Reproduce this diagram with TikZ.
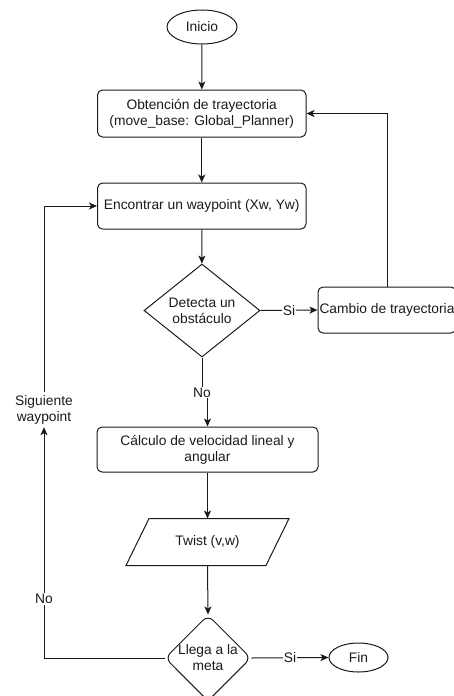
\documentclass[tikz,border=0pt]{standalone}
\usepackage{fontspec}
\setmainfont{Liberation Sans}
\usetikzlibrary{shapes.geometric,arrows.meta}
\definecolor{ink}{HTML}{1A1A1A}
\tikzset{
  base/.style={draw=ink, line width=1pt, text=ink, align=center, inner sep=0pt,
    font=\fontsize{13.8}{16}\selectfont},
  proc/.style={base, rectangle, rounded corners=5pt},
  term/.style={base, ellipse},
  decision/.style={base, diamond},
  lbl/.style={fill=white, text=ink, inner sep=1pt, font=\fontsize{13.8}{16}\selectfont, align=center},
  arr/.style={draw=ink, line width=1pt, -{Stealth[length=8pt,width=7pt,inset=2pt]}},
  plain/.style={draw=ink, line width=1pt}
}
\begin{document}
\begin{tikzpicture}[x=1pt,y=-1pt]
\useasboundingbox (0,0) rectangle (454,696);

% process nodes
\node[term, minimum width=70, minimum height=34] (inicio) at (202,27) {Inicio};
\node[proc, minimum width=208.5, minimum height=47] (obt) at (201.75,113.5)
  {Obtención de trayectoria\\(move\_base: Global\_Planner)};
\node[proc, minimum width=208.5, minimum height=46] (enc) at (201.75,206)
  {Encontrar un waypoint (Xw, Yw)};
\node[decision, minimum width=116, minimum height=93] (det) at (202,310.5)
  {Detecta un\\obstáculo};
\node[proc, minimum width=138, minimum height=46] (cambio) at (387,310)
  {Cambio de trayectoria};
\node[proc, minimum width=221, minimum height=45] (calc) at (207.5,449.5)
  {Cálculo de velocidad lineal y\\angular};

% data node drawn as a parallelogram
\node[base, draw=none, minimum width=116, minimum height=46] (twist) at (207.5,542) {Twist (v,w)};
\draw[plain] ([xshift=-23pt]twist.south west) -- (twist.south east)
  -- ([xshift=23pt]twist.north east) -- (twist.north west) -- cycle;

\node[decision, rounded corners=7pt, minimum width=84, minimum height=86] (llega) at (208,658)
  {Llega a la\\meta};
\node[term, minimum width=59, minimum height=29] (fin) at (358.5,657.5) {Fin};

\node[lbl, minimum height=35, inner sep=0pt] (sig) at (44,409.5) {Siguiente\\waypoint};

% connectors
\draw[arr] (inicio) -- (obt);
\draw[arr] (obt) -- (enc);
\draw[arr] (enc) -- (det);
\draw[arr] (det.east) -- node[lbl]{Si} (cambio.west);
\draw[arr] (cambio.north) |- (obt.east);
\draw[arr] (det.south) -- ++(0,35) node[lbl]{No} -| (calc.north);
\draw[arr] (calc) -- (twist.north);
\draw[arr] (twist.south) -- (llega.north);
\draw[arr] (llega.east) -- node[lbl]{Si} (fin.west);
\draw[arr] (llega.west) -| node[lbl, pos=0.628]{No} (sig.south);
\draw[arr] (sig.north) |- (enc.west);
\end{tikzpicture}
\end{document}
